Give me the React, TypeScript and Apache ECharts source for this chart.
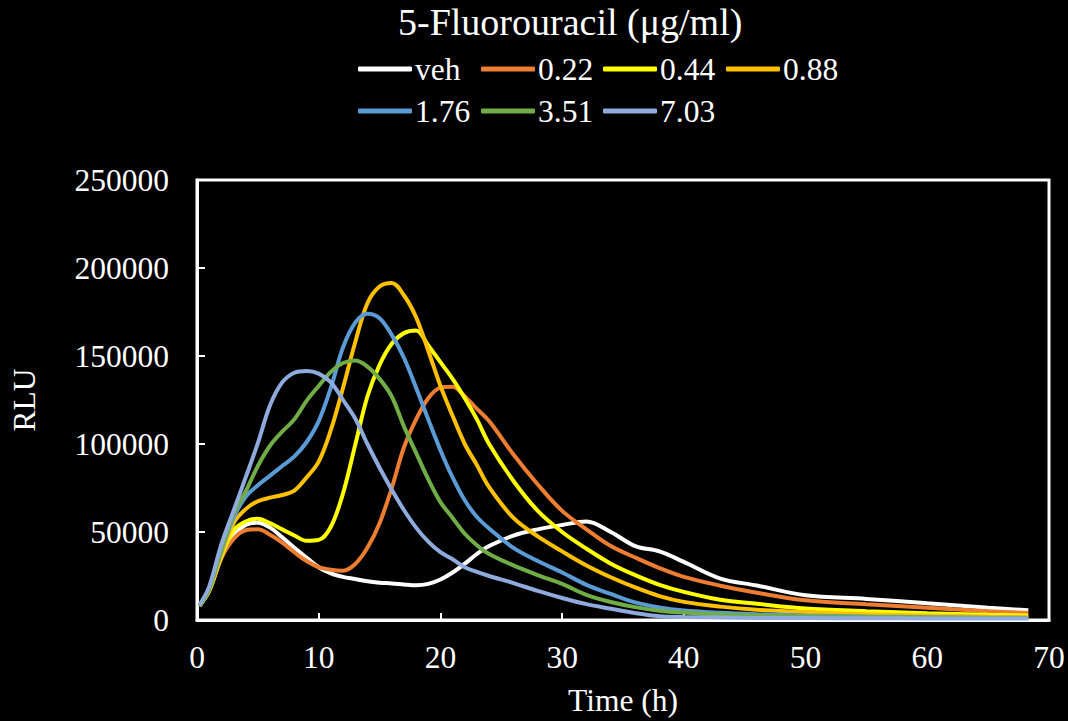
import React, { useEffect, useRef } from "react";
import * as echarts from "echarts";

const times = [0.2, 1, 2, 3, 4, 5, 6, 7, 8, 9, 10, 11, 12, 13, 14, 15, 16, 17, 18, 19, 20, 21, 22, 23, 24, 26, 28, 30, 32, 34, 36, 38, 40, 43, 46, 50, 55, 60, 65, 68.3];

const seriesNames = ["veh", "0.22", "0.44", "0.88", "1.76", "3.51", "7.03"];
const seriesColors = ["#FFFFFF", "#ED7D31", "#FFFF00", "#FFC000", "#5B9BD5", "#70AD47", "#8FAADC"];

const veh = [8000, 17000, 36000, 48000, 54000, 55300, 52500, 47000, 41000, 35500, 30000, 26500, 24500, 23300, 22000, 21200, 20800, 20200, 19700, 20500, 23000, 27000, 32000, 37500, 42000, 48000, 51500, 54000, 56000, 50000, 42000, 39000, 33000, 23500, 19600, 14000, 12000, 9500, 7000, 5500];
const d022 = [8000, 16500, 35000, 46000, 51000, 51500, 48500, 44000, 38500, 33500, 30000, 28500, 28000, 31800, 41000, 55000, 75000, 98000, 114000, 126000, 132000, 132500, 127000, 120000, 113000, 94000, 77000, 62000, 51500, 42000, 35500, 29500, 24500, 19500, 15500, 11200, 9000, 7000, 5000, 4000];
const d044 = [8000, 16500, 36000, 51000, 56000, 57500, 55000, 51500, 48000, 45000, 45500, 53000, 72000, 99500, 127000, 145000, 157000, 163000, 164500, 156000, 146500, 137000, 126000, 114000, 100000, 79000, 62000, 50000, 40500, 32000, 25500, 20000, 16000, 11500, 9200, 6500, 5000, 3800, 3000, 2600];
const d088 = [8000, 17000, 37000, 55000, 63000, 67500, 69500, 71000, 73500, 81000, 90000, 108000, 132000, 157800, 180000, 189500, 191500, 184500, 172000, 153000, 133000, 116000, 100000, 88000, 75500, 58000, 47500, 39000, 31000, 24300, 18500, 13600, 10300, 7600, 5800, 4500, 3200, 2500, 2000, 1800];
const d176 = [8000, 17500, 39000, 58000, 70000, 76500, 82000, 87500, 93000, 101000, 113000, 132000, 155000, 169000, 174000, 171500, 162000, 149000, 132000, 114000, 96500, 81000, 68000, 58500, 52000, 41000, 33500, 27000, 20000, 14800, 10000, 7100, 5400, 4100, 3300, 2600, 2000, 1600, 1300, 1200];
const d351 = [8000, 17500, 40000, 60000, 73000, 87500, 99000, 107000, 114000, 124500, 133000, 141000, 146000, 147500, 144000, 137000, 127000, 110000, 95000, 80000, 67000, 58000, 49000, 42500, 37500, 31000, 25500, 20500, 14300, 10200, 7300, 5300, 4200, 3100, 2600, 2100, 1700, 1400, 1200, 1100];
const d703 = [8500, 19000, 43000, 62000, 81000, 100500, 122000, 135000, 140500, 141500, 140000, 135000, 125000, 114500, 100000, 86500, 74000, 62500, 52500, 44500, 38500, 34500, 30000, 27300, 25000, 21000, 16500, 12500, 9000, 6400, 3900, 2100, 1700, 1400, 1200, 1100, 1000, 900, 800, 800];

const seriesValues = [veh, d022, d044, d088, d176, d351, d703];

const xTicks = { min: 0, max: 70, interval: 10 };
const yTicks = { min: 0, max: 250000, interval: 50000 };

const FONT = "Liberation Serif, Times New Roman, serif";
const FS = 31.5;

export default function App() {
  const ref = useRef<HTMLDivElement>(null);
  useEffect(() => {
    if (!ref.current) return;
    const chart = echarts.init(ref.current, undefined, { renderer: "svg" });
    const legendCols = [358, 481, 603, 726];
    const legendRows = [53, 95];
    const legends = seriesNames.map((name, i) => ({
      orient: "horizontal",
      icon: "roundRect",
      itemWidth: 54,
      itemHeight: 5,
      itemGap: 0,
      padding: 0,
      left: legendCols[i % 4],
      top: legendRows[Math.floor(i / 4)],
      textStyle: { color: "#fff", fontFamily: FONT, fontSize: FS, padding: [0, 0, 0, -2] },
      data: [name],
    }));
    chart.setOption({
      animation: false,
      backgroundColor: "#000",
      title: {
        text: "5-Fluorouracil (μg/ml)",
        left: 398,
        top: 1,
        padding: [2, 0, 0, 0],
        textStyle: { color: "#fff", fontFamily: FONT, fontSize: 38, fontWeight: "normal" },
      },
      legend: legends,
      grid: {
        left: 195,
        right: 19,
        top: 180,
        bottom: 98,
        show: true,
        borderColor: "#fff",
        borderWidth: 3,
        backgroundColor: "#000",
      },
      xAxis: {
        type: "value",
        ...xTicks,
        name: "Time (h)",
        nameLocation: "middle",
        nameGap: 64,
        nameTextStyle: { color: "#fff", fontFamily: FONT, fontSize: FS },
        axisLine: { lineStyle: { color: "#fff", width: 3 } },
        axisTick: { inside: true, length: 7, lineStyle: { color: "#fff", width: 2 } },
        axisLabel: { color: "#fff", fontFamily: FONT, fontSize: FS, margin: 21 },
        splitLine: { show: false },
      },
      yAxis: {
        type: "value",
        ...yTicks,
        name: "RLU",
        nameLocation: "middle",
        nameGap: 157,
        nameRotate: 90,
        nameTextStyle: { color: "#fff", fontFamily: FONT, fontSize: FS },
        axisLine: { show: true, lineStyle: { color: "#fff", width: 3 } },
        axisTick: { show: true, inside: true, length: 8, lineStyle: { color: "#fff", width: 2 } },
        axisLabel: {
          color: "#fff",
          fontFamily: FONT,
          fontSize: FS,
          margin: 28,
          formatter: (v: number) => String(v),
        },
        splitLine: { show: false },
      },
      series: seriesNames.map((name, i) => ({
        name,
        type: "line",
        showSymbol: false,
        symbol: "none",
        smooth: 0.35,
        color: seriesColors[i],
        lineStyle: { color: seriesColors[i], width: 4 },
        data: times.map((t, j) => [t, seriesValues[i][j]]),
      })),
    });
    return () => chart.dispose();
  }, []);
  return (
    <div
      ref={ref}
      style={{ position: "fixed", left: 0, top: 0, width: 1068, height: 721, background: "#000" }}
    />
  );
}
